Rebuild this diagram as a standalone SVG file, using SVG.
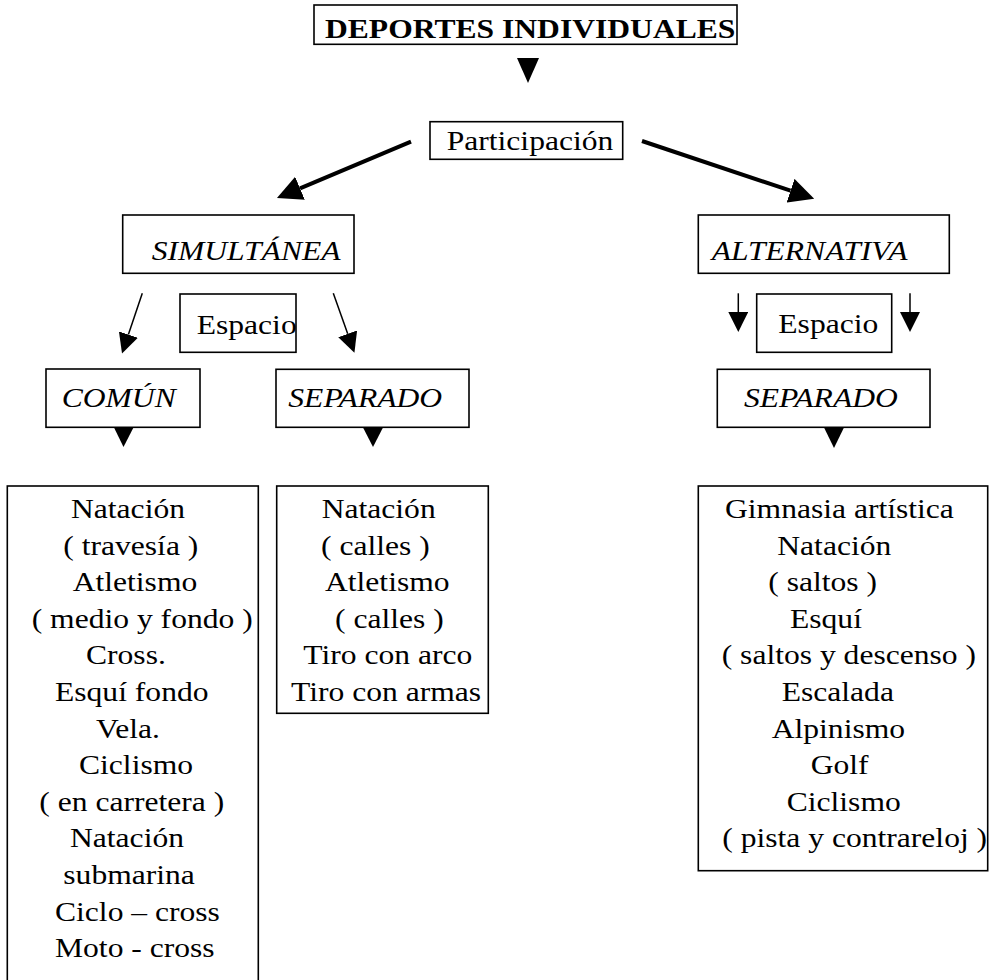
<svg xmlns="http://www.w3.org/2000/svg" width="989" height="980" viewBox="0 0 989 980">
  <style>
    .box { fill: #fff; stroke: #000; stroke-width: 1.6; }
    text { font-family: "Liberation Serif", "Times New Roman", serif; font-size: 27px; fill: #000; }
    .b { font-weight: bold; }
    .i { font-style: italic; }
    .thick { stroke: #000; stroke-width: 4; fill: none; }
    .thin { stroke: #000; stroke-width: 1.5; fill: none; }
    .tri { fill: #000; stroke: none; }
  </style>
  <defs>
    <marker id="headBig" viewBox="0 0 10 10" refX="0" refY="5" markerWidth="25" markerHeight="25" markerUnits="userSpaceOnUse" orient="auto">
      <path d="M0,0 L10,5 L0,10 z" fill="#000"/>
    </marker>
    <marker id="headSmall" viewBox="0 0 10 10" refX="0" refY="5" markerWidth="20" markerHeight="20" markerUnits="userSpaceOnUse" orient="auto">
      <path d="M0,0 L10,5 L0,10 z" fill="#000"/>
    </marker>
  </defs>
  <rect width="989" height="980" fill="#fff"/>

  <!-- connectors -->
  <g id="connectors">
    <polygon class="tri" points="517,58 539,58 528,83"/>
    <path class="thick" d="M411,141.7 L300,188.3" marker-end="url(#headBig)"/>
    <path class="thick" d="M642,141 L790.5,190.7" marker-end="url(#headBig)"/>
    <path class="thin" d="M142.3,293.3 L128.4,334.6" marker-end="url(#headSmall)"/>
    <path class="thin" d="M333.3,293.3 L347.7,333.8" marker-end="url(#headSmall)"/>
    <path class="thin" d="M738.3,293.3 L738.3,312" marker-end="url(#headSmall)"/>
    <path class="thin" d="M910,293.3 L910,312" marker-end="url(#headSmall)"/>
    <polygon class="tri" points="114,427.5 133.5,427.5 123.5,447"/>
    <polygon class="tri" points="363,427.5 383,427.5 373,447"/>
    <polygon class="tri" points="824,427.5 844,427.5 834,448"/>
  </g>

  <!-- nodes -->
  <g id="titulo">
    <rect class="box" x="314" y="5" width="423" height="39.3"/>
    <text class="b" transform="translate(325 38.3) scale(1.17 1)">DEPORTES INDIVIDUALES</text>
  </g>
  <g id="participacion">
    <rect class="box" x="430" y="121.7" width="192.7" height="37.6"/>
    <text transform="translate(446.7 150) scale(1.17 1)">Participación</text>
  </g>
  <g id="simultanea">
    <rect class="box" x="122.7" y="215" width="231.3" height="58.3"/>
    <text class="i" transform="translate(151.7 260) scale(1.17 1)">SIMULTÁNEA</text>
  </g>
  <g id="alternativa">
    <rect class="box" x="698.3" y="215" width="251" height="58.3"/>
    <text class="i" transform="translate(711.7 260) scale(1.17 1)">ALTERNATIVA</text>
  </g>
  <g id="espacio-simultanea">
    <rect class="box" x="180" y="294" width="116" height="58.3"/>
    <text transform="translate(196.7 334) scale(1.17 1)">Espacio</text>
  </g>
  <g id="espacio-alternativa">
    <rect class="box" x="756.7" y="294" width="135" height="58.3"/>
    <text transform="translate(778.3 333) scale(1.17 1)">Espacio</text>
  </g>
  <g id="comun">
    <rect class="box" x="46" y="369" width="154" height="58.3"/>
    <text class="i" transform="translate(61.7 406.5) scale(1.17 1)">COMÚN</text>
  </g>
  <g id="separado-simultanea">
    <rect class="box" x="276" y="369.3" width="193" height="58"/>
    <text class="i" transform="translate(288.3 407) scale(1.17 1)">SEPARADO</text>
  </g>
  <g id="separado-alternativa">
    <rect class="box" x="717.3" y="369.3" width="212.7" height="58"/>
    <text class="i" transform="translate(744 406.7) scale(1.17 1)">SEPARADO</text>
  </g>

  <g id="lista-comun">
    <rect class="box" x="7.3" y="486" width="251" height="510"/>
    <text transform="translate(71 518) scale(1.17 1)">Natación</text>
    <text transform="translate(63.3 554.6) scale(1.17 1)">( travesía )</text>
    <text transform="translate(72.7 591.2) scale(1.17 1)">Atletismo</text>
    <text transform="translate(31.7 627.8) scale(1.17 1)">( medio y fondo )</text>
    <text transform="translate(86 664.4) scale(1.17 1)">Cross.</text>
    <text transform="translate(55 701) scale(1.17 1)">Esquí fondo</text>
    <text transform="translate(96 737.6) scale(1.17 1)">Vela.</text>
    <text transform="translate(79 774.2) scale(1.17 1)">Ciclismo</text>
    <text transform="translate(39.3 810.8) scale(1.17 1)">( en carretera )</text>
    <text transform="translate(70 847.4) scale(1.17 1)">Natación</text>
    <text transform="translate(63.3 884) scale(1.17 1)">submarina</text>
    <text transform="translate(55 920.6) scale(1.17 1)">Ciclo – cross</text>
    <text transform="translate(55 957.2) scale(1.17 1)">Moto - cross</text>
  </g>

  <g id="lista-separado-simultanea">
    <rect class="box" x="276.7" y="486" width="211.6" height="227.3"/>
    <text transform="translate(321.7 518) scale(1.17 1)">Natación</text>
    <text transform="translate(321 554.6) scale(1.17 1)">( calles )</text>
    <text transform="translate(325 591.2) scale(1.17 1)">Atletismo</text>
    <text transform="translate(335 627.8) scale(1.17 1)">( calles )</text>
    <text transform="translate(303.3 664.4) scale(1.17 1)">Tiro con arco</text>
    <text transform="translate(291 701) scale(1.17 1)">Tiro con armas</text>
  </g>

  <g id="lista-separado-alternativa">
    <rect class="box" x="698.3" y="486" width="289.4" height="384.7"/>
    <text transform="translate(725 518) scale(1.17 1)">Gimnasia artística</text>
    <text transform="translate(777.3 554.6) scale(1.17 1)">Natación</text>
    <text transform="translate(768.3 591.2) scale(1.17 1)">( saltos )</text>
    <text transform="translate(790 627.8) scale(1.17 1)">Esquí</text>
    <text transform="translate(721.7 664.4) scale(1.17 1)">( saltos y descenso )</text>
    <text transform="translate(781.7 701) scale(1.17 1)">Escalada</text>
    <text transform="translate(771.7 737.6) scale(1.17 1)">Alpinismo</text>
    <text transform="translate(810.7 774.2) scale(1.17 1)">Golf</text>
    <text transform="translate(786.7 810.8) scale(1.17 1)">Ciclismo</text>
    <text transform="translate(722.3 847.4) scale(1.17 1)">( pista y contrareloj )</text>
  </g>
</svg>
